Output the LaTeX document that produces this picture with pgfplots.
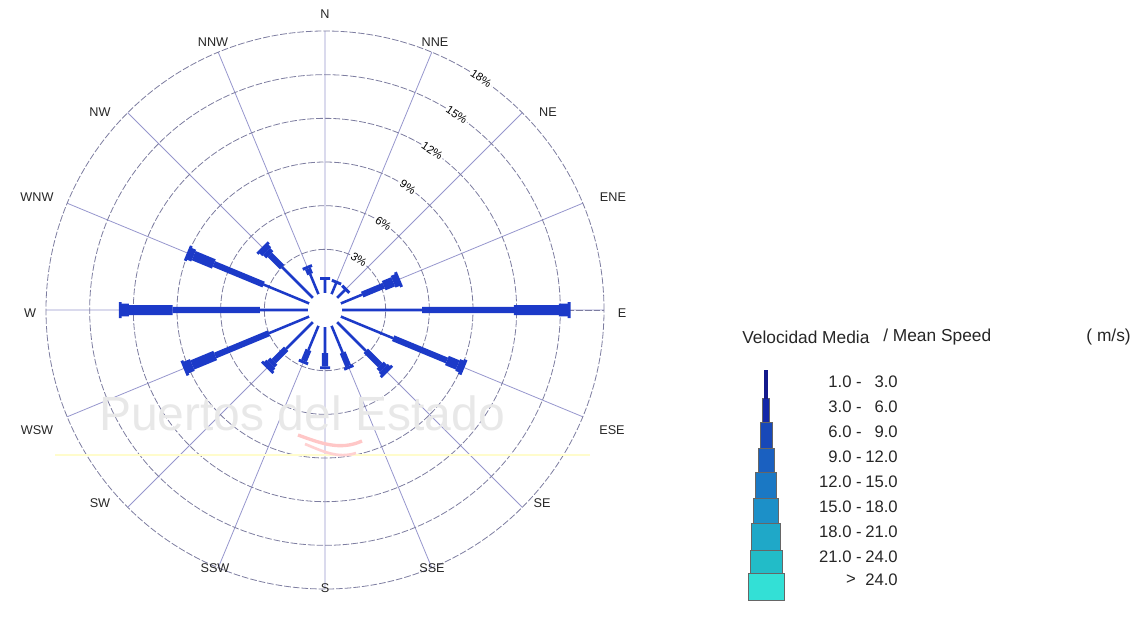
\documentclass[border=0pt]{standalone}
\usepackage{pgfplots}
\pgfplotsset{compat=1.18}
\usepgfplotslibrary{polar}
\usepackage{fontspec}
\setmainfont{Liberation Sans}
\definecolor{barc}{RGB}{28,58,200}
\definecolor{spoke}{RGB}{150,150,205}
\definecolor{ringc}{RGB}{125,125,160}
\definecolor{c1}{RGB}{20,26,140}
\definecolor{c2}{RGB}{20,40,168}
\definecolor{c3}{RGB}{24,72,184}
\definecolor{c4}{RGB}{26,96,192}
\definecolor{c5}{RGB}{26,120,196}
\definecolor{c6}{RGB}{28,144,200}
\definecolor{c7}{RGB}{31,168,200}
\definecolor{c8}{RGB}{34,188,200}
\definecolor{c9}{RGB}{51,224,214}
\begin{document}
\begin{tikzpicture}[x=0.75pt,y=0.75pt]
\begin{polaraxis}[
  scale only axis, width=418.5pt, height=418.5pt,
  xmin=0, xmax=360, ymin=0, ymax=19.167,
  xtick={0,22.5,...,337.5}, xticklabels={},
  ytick={4.167,7.167,10.167,13.167,16.167}, yticklabels={},
  xmajorgrids=true, ymajorgrids=true,
  x grid style={draw=spoke, line width=0.6pt},
  y grid style={draw=ringc, line width=0.6pt, dash pattern=on 5pt off 1.5pt},
  axis line style={draw=ringc, line width=0.6pt, dash pattern=on 5pt off 1.5pt},
  major tick length=0pt,
  y filter/.expression={y+1.167},
  unbounded coords=jump,
]
% class A: thin
\addplot[barc, no marks, line width=1.9pt] coordinates {
(0,0)(0,5.5) (nan,nan) (22.5,0)(22.5,1.6) (nan,nan) (45,0)(45,0.85) (nan,nan)
(67.5,0)(67.5,0.9) (nan,nan) (90,0)(90,1.0) (nan,nan) (112.5,0)(112.5,1.5) (nan,nan)
(135,0)(135,3.0) (nan,nan) (157.5,0)(157.5,3.4) (nan,nan) (180,0)(180,3.3) (nan,nan)
(202.5,0)(202.5,3.0) (nan,nan) (225,0)(225,2.6) (nan,nan) (247.5,0)(247.5,1.8) (nan,nan)
(270,0)(270,1.8) (nan,nan) (292.5,0)(292.5,2.0) (nan,nan) (315,0)(315,2.8) (nan,nan)
(337.5,0)(337.5,3.9)
};
% class B: medium
\addplot[barc, no marks, line width=4.6pt] coordinates {
(0,5.5)(0,11.8) (nan,nan) (22.5,1.6)(22.5,3.2) (nan,nan) (112.5,1.5)(112.5,1.9) (nan,nan)
(135,3.0)(135,4.2) (nan,nan) (157.5,3.4)(157.5,7.1) (nan,nan) (180,3.3)(180,9.3) (nan,nan)
(202.5,3.0)(202.5,7.0) (nan,nan) (225,2.6)(225,3.8) (nan,nan) (247.5,1.8)(247.5,2.6) (nan,nan)
(270,1.8)(270,2.7) (nan,nan) (292.5,2.0)(292.5,3.0) (nan,nan) (315,2.8)(315,4.2) (nan,nan)
(337.5,3.9)(337.5,7.9)
};
% class C: thick
\addplot[barc, no marks, line width=7.5pt] coordinates {
(0,11.8)(0,14.9) (nan,nan) (22.5,3.2)(22.5,3.9) (nan,nan) (135,4.2)(135,4.5) (nan,nan)
(157.5,7.1)(157.5,8.6) (nan,nan) (180,9.3)(180,12.3) (nan,nan) (202.5,7.0)(202.5,8.7) (nan,nan)
(225,3.8)(225,4.1) (nan,nan) (315,4.2)(315,4.5) (nan,nan) (337.5,7.9)(337.5,8.7)
};
% cap
\addplot[barc, no marks, line width=9.5pt] coordinates {
(0,14.9)(0,15.6) (nan,nan) (22.5,3.9)(22.5,4.3) (nan,nan) (135,4.5)(135,4.85) (nan,nan)
(157.5,8.6)(157.5,9.0) (nan,nan) (180,12.3)(180,12.9) (nan,nan) (202.5,8.7)(202.5,9.25) (nan,nan)
(225,4.1)(225,4.4) (nan,nan) (315,4.5)(315,4.8) (nan,nan) (337.5,8.7)(337.5,9.05)
};
% end bar, large
\addplot[barc, no marks, line width=12pt] coordinates {
(0,15.5)(0,15.7) (nan,nan) (22.5,4.2)(22.5,4.4) (nan,nan) (135,4.75)(135,4.95) (nan,nan)
(157.5,8.9)(157.5,9.1) (nan,nan) (180,12.8)(180,13.0) (nan,nan) (202.5,9.15)(202.5,9.35) (nan,nan)
(225,4.3)(225,4.5) (nan,nan) (315,4.7)(315,4.9) (nan,nan) (337.5,8.95)(337.5,9.2)
};
% end bar, small
\addplot[barc, no marks, line width=7.5pt] coordinates {
(45,0.75)(45,0.95) (nan,nan) (67.5,0.8)(67.5,1.0) (nan,nan) (90,0.9)(90,1.1) (nan,nan)
(112.5,1.9)(112.5,2.1) (nan,nan) (247.5,2.6)(247.5,2.8) (nan,nan) (270,2.7)(270,2.9) (nan,nan)
(292.5,3.0)(292.5,3.2)
};
\coordinate (O) at (axis cs:0,0);
\end{polaraxis}
\begin{scope}[shift={(O)}, shift={(-325,-309)}]
\pgfresetboundingbox
\path[use as bounding box] (0,0) rectangle (1137,619);
\fill[white] (325,309) circle[radius=17];
% watermark
\node[text=black!9, font=\fontsize{36}{40}\selectfont] at (302,206) {Puertos del Estado};
\draw[yellow!20!white, line width=1pt] (55,164) -- (590,164);
\draw[red!22!white, line width=2.5pt] (298,184) .. controls (320,176) and (340,168) .. (362,178);
\draw[red!18!white, line width=2pt] (305,175) .. controls (322,168) and (338,160) .. (356,166);
% percentage labels
\begin{scope}[shift={(325,309)}, every node/.style={font=\fontsize{8.5}{10}\selectfont, fill=white, inner sep=1pt, rotate=-34}]
\node at (56:60.7) {3\%};
\node at (56:104.4) {6\%};
\node at (56:148.1) {9\%};
\node at (56:191.8) {12\%};
\node at (56:235.5) {15\%};
\node at (56:279.2) {18\%};
\end{scope}
% direction labels
\begin{scope}[every node/.style={font=\fontsize{9.5}{11}\selectfont, text=black!85}]
\node at (622,306) {E};
\node at (613,422) {ENE};
\node at (548,507) {NE};
\node at (435,577) {NNE};
\node at (325,605) {N};
\node at (213,577) {NNW};
\node at (100,507) {NW};
\node at (37,422) {WNW};
\node at (30,306) {W};
\node at (37,189) {WSW};
\node at (100,116) {SW};
\node at (215,51) {SSW};
\node at (325,31) {S};
\node at (432,51) {SSE};
\node at (542,116) {SE};
\node at (612,189) {ESE};
\end{scope}
% legend
\begin{scope}[every node/.style={font=\fontsize{13}{15}\selectfont, text=black!85, inner sep=0pt}]
\node[anchor=west] at (742,282) {Velocidad Media};
\node[anchor=west] at (883,282) {/ Mean Speed};
\node[anchor=east] at (1131,282) {( m/s)};
\end{scope}
\begin{scope}[draw=black!60, line width=0.4pt]
\filldraw[fill=c9] (748,19) rectangle (784,46);
\filldraw[fill=c8] (750,46) rectangle (782,69);
\filldraw[fill=c7] (751.5,69) rectangle (780.5,96);
\filldraw[fill=c6] (753.5,96) rectangle (778.5,121);
\filldraw[fill=c5] (755.5,121) rectangle (776.5,147);
\filldraw[fill=c4] (758,147) rectangle (774,171);
\filldraw[fill=c3] (760,171) rectangle (772,197);
\filldraw[fill=c2] (762.5,197) rectangle (769.5,221);
\filldraw[fill=c1, draw=c1] (764.5,221) rectangle (767.5,249);
\end{scope}
\begin{scope}[every node/.style={font=\fontsize{12.5}{14}\selectfont, text=black!85, inner sep=0pt}]
\node[anchor=east] at (862,237) {1.0 -};  \node[anchor=east] at (898,237) {3.0};
\node[anchor=east] at (862,212) {3.0 -};  \node[anchor=east] at (898,212) {6.0};
\node[anchor=east] at (862,187) {6.0 -};  \node[anchor=east] at (898,187) {9.0};
\node[anchor=east] at (862,162) {9.0 -};  \node[anchor=east] at (898,162) {12.0};
\node[anchor=east] at (862,137) {12.0 -}; \node[anchor=east] at (898,137) {15.0};
\node[anchor=east] at (862,112) {15.0 -}; \node[anchor=east] at (898,112) {18.0};
\node[anchor=east] at (862,87) {18.0 -};  \node[anchor=east] at (898,87) {21.0};
\node[anchor=east] at (862,62) {21.0 -};  \node[anchor=east] at (898,62) {24.0};
\node[anchor=east] at (856,39) {>};       \node[anchor=east] at (898,39) {24.0};
\end{scope}
\end{scope}
\end{tikzpicture}
\end{document}
